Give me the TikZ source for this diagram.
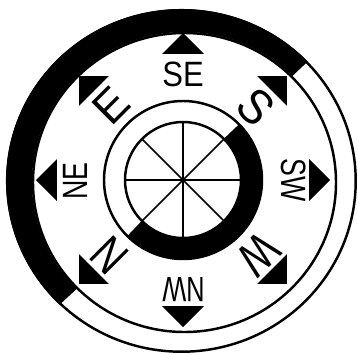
\documentclass[tikz,border=0pt]{standalone}
\usepackage{fontspec}
\setmainfont{Liberation Sans}
\begin{document}
\begin{tikzpicture}[scale=0.01]
\tikzset{
  biglabel/.style={font=\fontsize{14pt}{14pt}\selectfont, inner sep=0pt},
  smalllabel/.style={font=\fontsize{10pt}{10pt}\selectfont, inner sep=0pt},
  thinring/.style={line width=0.7pt}
}
\useasboundingbox (-183,-174) rectangle (175,180);

% Outer rim
\draw[thinring] (-1.5,-1) ellipse (174.2 and 170.7);
\draw[thinring] (1.5,-2.5) ellipse (151.5 and 149.5);
\fill (124.7,118.5) arc[start angle=44, end angle=226, x radius=175.5, y radius=172]
  -- (-106.3,-108.9) arc[start angle=225, end angle=45, x radius=152.5, y radius=150.5] -- cycle;

% Inner rim
\draw[thinring] (0,0) circle (79);
\draw[line width=6pt] (45:69) arc (45:-135:69);
\draw[line width=0.7pt] (0,0) circle (58);

% Spokes
\foreach \a in {0,45,...,135} {
  \draw[line width=0.45pt] (\a:58) -- (\a+180:58);
}

% Arrowheads
\foreach \a in {0,45,...,315} {
  \fill[rotate=\a] (-21,126) -- (21,126) -- (0,147) -- cycle;
}

% Labels
\node[smalllabel] (labSE) at (0,106) {\scalebox{.88}[1]{SE}};
\node[smalllabel, rotate=90] (labNE) at (-108,-1) {\scalebox{.76}[1]{NE}};
\node[smalllabel, rotate=180] (labNW) at (0.5,-109.5) {\scalebox{.72}[1]{NW}};
\node[smalllabel, rotate=-90] (labSW) at (111,0) {\scalebox{.76}[1]{SW}};
\node[biglabel, rotate=45] (labE) at (-72,74) {\scalebox{.93}{E}};
\node[biglabel, rotate=-45] (labS) at (73,73) {\scalebox{.9}[1]{S}};
\node[biglabel, rotate=135] (labN) at (-74,-75) {\scalebox{.8}[1]{N}};
\node[biglabel, rotate=-135] (labW) at (76,-74) {\scalebox{.78}[1]{W}};
\end{tikzpicture}
\end{document}
